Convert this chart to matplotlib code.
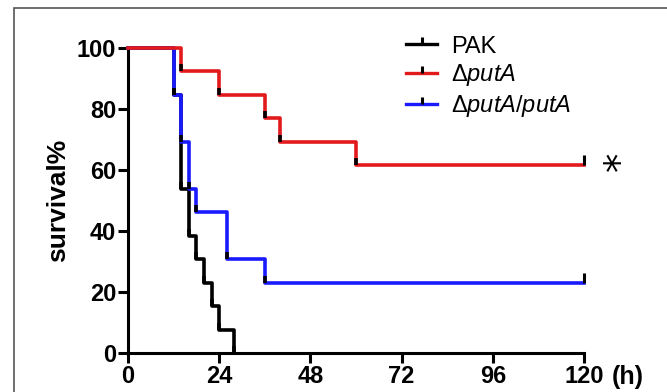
import matplotlib
matplotlib.use("Agg")
import matplotlib.pyplot as plt
from matplotlib.lines import Line2D
from matplotlib.patches import Rectangle
from matplotlib.path import Path

plt.rcParams['font.family'] = ['Liberation Sans', 'DejaVu Sans']
plt.rcParams['mathtext.fontset'] = 'custom'
plt.rcParams['mathtext.rm'] = 'Liberation Sans'
plt.rcParams['mathtext.it'] = 'Liberation Sans:italic'
plt.rcParams['mathtext.bf'] = 'Liberation Sans:bold'

# survival data (Kaplan-Meier steps), hours / percent
pak_t = [0, 12, 14, 16, 18, 20, 22, 24, 28]
pak_s = [100, 84.6, 53.8, 38.5, 30.8, 23.1, 15.4, 7.7, 0]

put_t = [0, 14, 24, 36, 40, 60, 120]
put_s = [100, 92.3, 84.6, 76.9, 69.2, 61.5, 61.5]

comp_t = [0, 12, 14, 16, 18, 26, 36, 120]
comp_s = [100, 84.6, 69.2, 53.8, 46.2, 30.8, 23.1, 23.1]

labels = ['PAK', r'$\Delta\it{putA}$', r'$\Delta\it{putA/putA}$']
colors = ['black', '#e31a1c', '#1a1aff']
xticks = [0, 24, 48, 72, 96, 120]
yticks = [0, 20, 40, 60, 80, 100]

# upward tick marker (censor marks / black bits at step corners)
up_tick = Path([(0, 0), (0, 1)])

fig = plt.figure(figsize=(6.67, 3.92), dpi=100)
ax = fig.add_axes([128 / 667, 1 - 353 / 392, 456 / 667, 305 / 392])

fig.patches.append(Rectangle((14 / 667, -0.1), 1.2, (1 - 8 / 392) + 0.1,
                             transform=fig.transFigure, fill=False,
                             edgecolor='#555555', linewidth=1.2))

# PAK underneath, coloured curves over it
for t, s, c, z in [(pak_t, pak_s, colors[0], 2), (comp_t, comp_s, colors[2], 3),
                   (put_t, put_s, colors[1], 3)]:
    ax.step(t, s, where='post', color=c, lw=2.6, zorder=z, clip_on=False)
    # small black segments at bottom of each drop
    if s[-1] > 0:
        ct, cs = t[1:-1], s[1:-1]
    else:
        ct, cs = t[1:], s[1:]
    ax.plot(ct, cs, ls='none', marker=up_tick, ms=10, mec='black', mew=2.6,
            zorder=5, clip_on=False)

# censor marks at end of follow-up
ax.plot([put_t[-1], comp_t[-1]], [put_s[-1], comp_s[-1]], ls='none',
        marker=up_tick, ms=15, mec='black', mew=2.2, zorder=6, clip_on=False)

ax.set_xlim(0, 120)
ax.set_ylim(0, 100)
ax.set_xticks(xticks)
ax.set_yticks(yticks)
ax.spines['top'].set_visible(False)
ax.spines['right'].set_visible(False)
for sp in ['left', 'bottom']:
    ax.spines[sp].set_linewidth(2.2)
ax.tick_params(width=2.2, length=7, direction='out', labelsize=17, pad=1.5)
for lab in ax.get_xticklabels() + ax.get_yticklabels():
    lab.set_fontweight('bold')

ax.set_ylabel('survival%', fontsize=19, fontweight='bold', labelpad=5)
ax.text(1.06, -0.078, '(h)', transform=ax.transAxes, fontsize=18,
        fontweight='bold', ha='left', va='center')
ax.text(129.6, 62.8, '*', fontsize=28, ha='center', va='center', rotation=90,
        family=['DejaVu Sans'], clip_on=False)

handles = [Line2D([], [], color=c, lw=2.4, marker=up_tick, ms=10,
                  mec='black', mew=2.2) for c in colors]
ax.legend(handles, labels, loc='upper left', bbox_to_anchor=(0.564, 1.11),
          frameon=False, fontsize=17, handlelength=1.3, handletextpad=0.6,
          labelspacing=0.2)

fig.savefig('out.png', dpi=100)
